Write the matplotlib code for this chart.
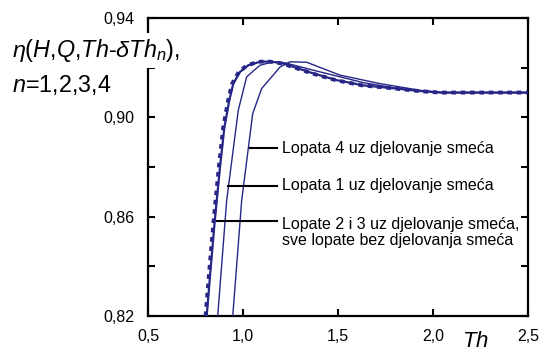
import matplotlib
matplotlib.use("Agg")
import matplotlib.pyplot as plt
from matplotlib.ticker import MultipleLocator, FuncFormatter

plt.rcParams['font.family'] = ['Liberation Sans', 'DejaVu Sans']
plt.rcParams['mathtext.fontset'] = 'custom'
plt.rcParams['mathtext.rm'] = 'Liberation Sans'
plt.rcParams['mathtext.it'] = 'Liberation Sans:italic'

# efficiency curves, read along Th
th_clean = [0.809, 0.830, 0.853, 0.879, 0.902, 0.928, 0.949, 0.984, 1.028,
            1.089, 1.142, 1.212, 1.370, 1.493, 1.633, 1.809, 1.932, 2.040, 2.500]
eta_clean = [0.820, 0.8395, 0.8597, 0.880, 0.896, 0.9069, 0.9136, 0.9183, 0.9210,
             0.9224, 0.9225, 0.9217, 0.9177, 0.9150, 0.9129, 0.9116, 0.9106, 0.9100, 0.9100]

th_b1 = [0.867, 0.914, 0.975, 1.019, 1.089, 1.160, 1.220, 1.370, 1.633, 1.850, 2.050, 2.500]
eta_b1 = [0.820, 0.8665, 0.9028, 0.9163, 0.9210, 0.9224, 0.9220, 0.9190, 0.9140, 0.9112, 0.9100, 0.9100]

th_b4 = [0.946, 0.993, 1.051, 1.098, 1.195, 1.247, 1.335, 1.511, 1.721, 1.932, 2.050, 2.500]
eta_b4 = [0.820, 0.8665, 0.9015, 0.9116, 0.9203, 0.9224, 0.9222, 0.9170, 0.9136, 0.9109, 0.9100, 0.9100]

labels = ["Lopata 4 uz djelovanje smeća",
          "Lopata 1 uz djelovanje smeća",
          "Lopate 2 i 3 uz djelovanje smeća,\nsve lopate bez djelovanja smeća"]
# leader start (Th), height (eta)
label_th = [1.037, 0.921, 0.862]
label_eta = [0.8875, 0.8725, 0.8584]

navy = '#262686'

fig = plt.figure(figsize=(5.4, 3.54), dpi=100)
ax = fig.add_axes([0.274, 0.107, 0.704, 0.842])

ax.plot(th_clean, eta_clean, color=navy, lw=1.6, zorder=3)
ax.plot([t - 0.006 for t in th_clean], eta_clean, color=navy, lw=2.8,
        dashes=(1.2, 1.2), zorder=3)
ax.plot(th_b1, eta_b1, color=navy, lw=1.0, zorder=3)
ax.plot(th_b4, eta_b4, color=navy, lw=1.0, zorder=3)

for i, lab in enumerate(labels):
    ax.plot([label_th[i], 1.179], [label_eta[i], label_eta[i]], color='black', lw=1.5, zorder=4)
    if '\n' in lab:
        ax.text(1.204, label_eta[i] + 0.0017, lab, fontsize=11.5, ha='left', va='top',
                linespacing=1.1)
    else:
        ax.text(1.204, label_eta[i], lab, fontsize=11.5, ha='left', va='center')

ax.set_xlim(0.5, 2.5)
ax.set_ylim(0.82, 0.94)
ax.xaxis.set_major_locator(MultipleLocator(0.5))
ax.yaxis.set_major_locator(MultipleLocator(0.02))
ax.xaxis.set_major_formatter(FuncFormatter(lambda v, p: ('%.1f' % v).replace('.', ',')))
ax.yaxis.set_major_formatter(FuncFormatter(
    lambda v, p: ('%.2f' % v).replace('.', ',') if round(v * 100) % 4 == 2 else ''))
ax.tick_params(direction='in', length=5, width=1.5, labelsize=11.5,
               top=True, right=True)
ax.tick_params(axis='x', pad=9)
ax.tick_params(axis='y', pad=10)
for s in ax.spines.values():
    s.set_linewidth(1.6)

fig.text(12 / 540, 0.858, r'$\eta$($H$,$Q$,$Th$-$\delta Th_n$),', fontsize=16.8, ha='left',
         va='center', bbox=dict(facecolor='white', edgecolor='none', pad=3), zorder=10)
fig.text(12 / 540, 0.760, r'$n$=1,2,3,4', fontsize=16.8, ha='left', va='center')
fig.text(0.881, 0.034, r'$Th$', fontsize=16, ha='center', va='center')

fig.savefig('out.png', dpi=100)
